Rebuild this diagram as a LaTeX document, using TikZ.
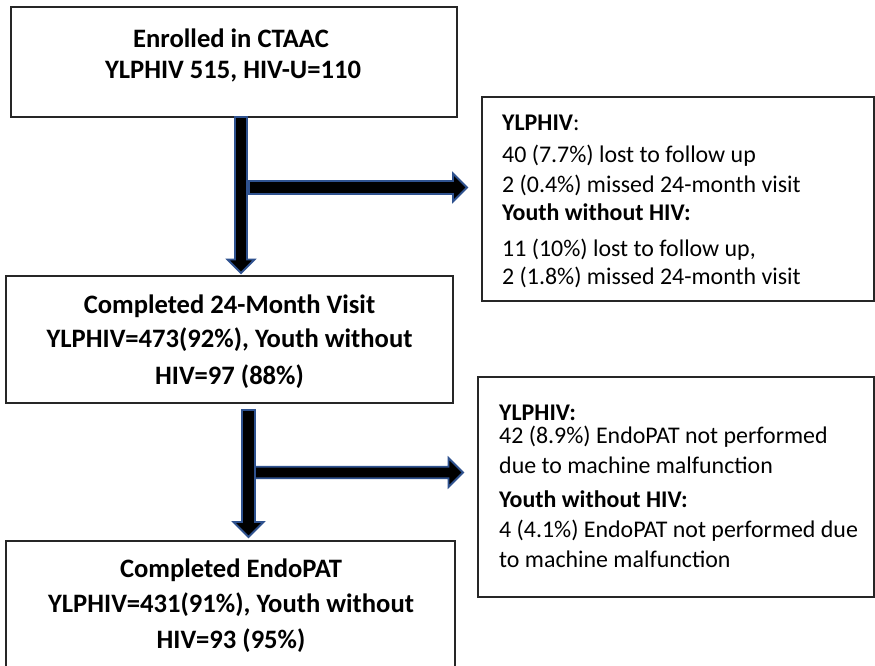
\documentclass[tikz,border=0pt]{standalone}
\usepackage{fontspec}
\setmainfont{Carlito}
\usetikzlibrary{calc}
\definecolor{arrowblue}{HTML}{2F528F}
\newcommand\fatdown[4]{\draw[fat] ($(#1)+(-#3,0)$) -- ($(#2)+(-#3,-#4)$) -- ($(#2)+(-#4,-#4)$) -- (#2) -- ($(#2)+(#4,-#4)$) -- ($(#2)+(#3,-#4)$) -- ($(#1)+(#3,0)$) -- cycle;}
\newcommand\fatright[4]{\draw[fat] ($(#1)+(0,-#3)$) -- ($(#2)+(-#4,-#3)$) -- ($(#2)+(-#4,-#4)$) -- (#2) -- ($(#2)+(-#4,#4)$) -- ($(#2)+(-#4,#3)$) -- ($(#1)+(0,#3)$) -- cycle;}
\begin{document}
\begin{tikzpicture}[x=1pt,y=-1pt,
  box/.style={draw=black!85, line width=1.3pt, fill=white, inner sep=0pt, outer sep=0pt, anchor=north west},
  big/.style={font=\fontsize{26.6}{31}\selectfont\bfseries, anchor=base, inner sep=0pt},
  small/.style={font=\fontsize{23.9}{28}\selectfont, anchor=base west, inner sep=0pt},
  fat/.style={fill=black, draw=arrowblue, line width=1.8pt, line join=miter}]
\useasboundingbox (0,0) rectangle (875,665);
\clip (0,0) rectangle (875,665);
\fill[white] (0,0) rectangle (875,665);

% main boxes
\node[box, minimum width=446pt, minimum height=110pt] (b1) at (11,7) {};
\node[box, minimum width=447pt, minimum height=127pt] (b2) at (6,276) {};
\node[box, minimum width=449pt, minimum height=140pt] (b3) at (6,541) {};
% side boxes
\node[box, minimum width=392pt, minimum height=204pt] (r1) at (482,97) {};
\node[box, minimum width=396pt, minimum height=220pt] (r2) at (478,377) {};

% texts in main boxes
\node[big] (t1a) at (231,47) {Enrolled in CTAAC};
\node[big] (t1b) at (233,78) {YLPHIV 515, HIV-U=110};
\node[big] (t2a) at (229.5,313) {Completed 24-Month Visit};
\node[big] (t2b) at (229.5,347) {YLPHIV=473(92\%), Youth without};
\node[big] (t2c) at (229.5,384) {HIV=97 (88\%)};
\node[big] (t3a) at (231,577) {Completed EndoPAT};
\node[big] (t3b) at (231,612) {YLPHIV=431(91\%), Youth without};
\node[big] (t3c) at (231,648) {HIV=93 (95\%)};

% texts in side boxes
\node[small] (s1a) at (502,130) {\textbf{YLPHIV}:};
\node[small] (s1b) at (502,162) {40 (7.7\%) lost to follow up};
\node[small] (s1c) at (502,192) {2 (0.4\%) missed 24-month visit};
\node[small] (s1d) at (502,220) {\textbf{Youth without HIV:}};
\node[small] (s1e) at (502,256) {11 (10\%) lost to follow up,};
\node[small] (s1f) at (502,284) {2 (1.8\%) missed 24-month visit};

\node[small] (s2a) at (499,420) {\textbf{YLPHIV:}};
\node[small] (s2b) at (499,443) {42 (8.9\%) EndoPAT not performed};
\node[small] (s2c) at (499,473) {due to machine malfunction};
\node[small] (s2d) at (499,507) {\textbf{Youth without HIV:}};
\node[small] (s2e) at (499,537) {4 (4.1\%) EndoPAT not performed due};
\node[small] (s2f) at (499,567) {to machine malfunction};

% arrow anchor points
\coordinate (v1s) at ($(b1.south)+(7,0)$);
\coordinate (v1e) at ($(b2.north)+(11.5,-3)$);
\coordinate (h1s) at (249,187.5);
\coordinate (h1e) at (467,187.5);
\coordinate (v2s) at ($(b2.south)+(19,7)$);
\coordinate (v2e) at ($(b3.north)+(18,-4)$);
\coordinate (h2s) at (255,472.5);
\coordinate (h2e) at (463,472.5);

% block arrows
\fatdown{v1s}{v1e}{6}{13.5}
\fatright{h1s}{h1e}{6.5}{14}
\fatdown{v2s}{v2e}{6.5}{15}
\fatright{h2s}{h2e}{5.75}{14.5}
\end{tikzpicture}
\end{document}
